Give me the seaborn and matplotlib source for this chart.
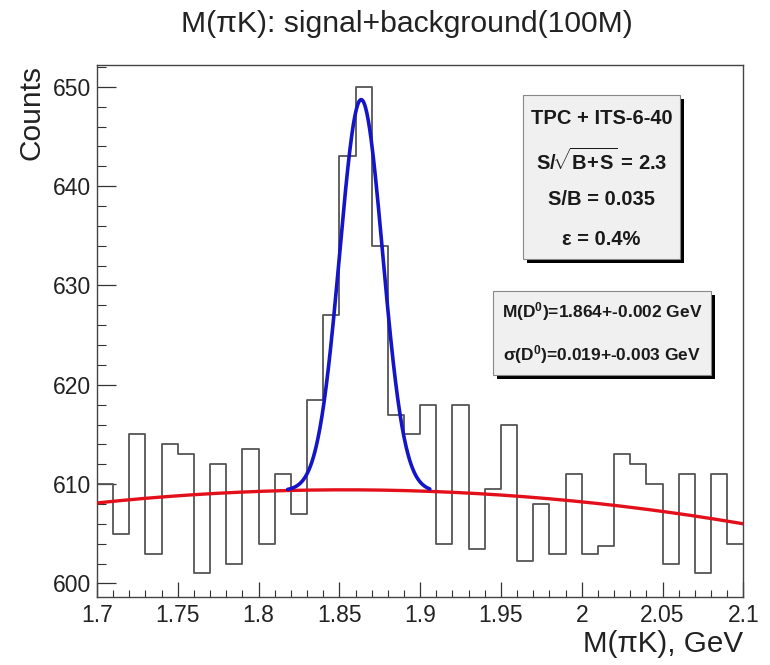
import numpy as np
import pandas as pd
import matplotlib
matplotlib.use("Agg")
import matplotlib.pyplot as plt
import seaborn as sns
from matplotlib.patches import Rectangle
from matplotlib.ticker import MultipleLocator, FuncFormatter

W, H = 770, 665

# histogram: 40 bins of 0.01 GeV between 1.70 and 2.10
x_lo, x_hi, bin_w = 1.70, 2.10, 0.01
counts = [610, 605, 615, 603, 614, 613, 601, 612, 602, 613.5,
          604, 611, 607, 618.5, 627, 643, 650, 634, 617, 615,
          618, 604, 618, 603.5, 609.5, 616, 602.3, 608, 603, 611,
          603, 603.8, 613, 612, 610, 602, 611, 601, 611, 604]

# fit parameters
bkg_ref = 1.90
bkg_coef = [609.3, -5.25, -56.25]      # p0 + p1*u + p2*u^2, u = x - bkg_ref
sig_amp = 39.3
sig_mean = 1.8635
sig_sigma = 0.0133
fit_lo, fit_hi = 1.818, 1.906

title = "M(\u03c0K): signal+background(100M)"
xlabel = "M(\u03c0K), GeV"
ylabel = "Counts"
box1_lines = ["TPC + ITS-6-40", r"S/$\!\mathbf{\sqrt{B\!+\!S}}$ = 2.3",
              "S/B = 0.035", "\u03b5 = 0.4%"]
box2_lines = [r"M(D$^{\mathbf{0}}$)=1.864+-0.002 GeV",
              "\u03c3(D$^{\\mathbf{0}}$)=0.019+-0.003 GeV"]

sns.set_style("white")
plt.rcParams['font.family'] = ['Liberation Sans', 'DejaVu Sans']
plt.rcParams['mathtext.fontset'] = 'custom'
plt.rcParams['mathtext.rm'] = 'Liberation Sans'
plt.rcParams['mathtext.bf'] = 'Liberation Sans:bold'
plt.rcParams['mathtext.it'] = 'Liberation Sans:italic'


def fx(px):
    return px / W


def fy(py):
    return 1 - py / H


def bkg(x):
    u = x - bkg_ref
    return bkg_coef[0] + bkg_coef[1] * u + bkg_coef[2] * u ** 2


def total(x):
    return bkg(x) + sig_amp * np.exp(-0.5 * ((x - sig_mean) / sig_sigma) ** 2)


fig = plt.figure(figsize=(W / 100, H / 100), dpi=100)
ax = fig.add_axes([fx(97), fy(597.3), fx(743.3 - 97), (597.3 - 65) / H])

n_bins = len(counts)
hist_df = pd.DataFrame({"mass": x_lo + bin_w * (np.arange(n_bins) + 0.5),
                        "counts": counts})
sns.histplot(data=hist_df, x="mass", weights="counts", binwidth=bin_w,
             binrange=(x_lo, x_hi), element="step", fill=False,
             color="#555555", linewidth=1.3, ax=ax, zorder=2)

xb = np.linspace(x_lo, x_hi, 300)
sns.lineplot(x=xb, y=bkg(xb), color="#e3101c", linewidth=2.4, ax=ax, zorder=3)
xs = np.linspace(fit_lo, fit_hi, 200)
sns.lineplot(x=xs, y=total(xs), color="#1414c8", linewidth=2.6, ax=ax, zorder=4)

ax.set_xlim(x_lo, x_hi)
ax.set_ylim(598.6, 652.2)
ax.set_xlabel("")
ax.set_ylabel("")
ax.xaxis.set_major_locator(MultipleLocator(0.05))
ax.xaxis.set_minor_locator(MultipleLocator(0.01))
ax.yaxis.set_major_locator(MultipleLocator(10))
ax.yaxis.set_minor_locator(MultipleLocator(2))
ax.xaxis.set_major_formatter(FuncFormatter(lambda v, p: f"{v:g}"))
ax.yaxis.set_major_formatter(FuncFormatter(lambda v, p: f"{v:g}"))
ax.tick_params(axis='x', which='major', direction='in', length=10.5, width=0.9,
               pad=5, labelsize=16.5, colors='#333333', labelcolor='#222222',
               bottom=True, top=False)
ax.tick_params(axis='x', which='minor', direction='in', length=5.3, width=0.8,
               colors='#333333', bottom=True, top=False)
ax.tick_params(axis='y', which='major', direction='in', length=13.5, width=0.9,
               pad=4.5, labelsize=16.5, colors='#333333', labelcolor='#222222',
               left=True, right=False)
ax.tick_params(axis='y', which='minor', direction='in', length=6.8, width=0.8,
               colors='#333333', left=True, right=False)
for s in ax.spines.values():
    s.set_color('#444444')
    s.set_linewidth(1.0)

fig.text(fx(407), fy(31.7), title, ha='center', va='baseline', fontsize=21.7,
         color='#222222')
fig.text(fx(31.5), fy(65), ylabel, ha='center', va='top', rotation=90,
         fontsize=21.5, color='#222222')
fig.text(fx(742.7), fy(652), xlabel, ha='right', va='baseline', fontsize=21.3,
         color='#222222')


def pave(x0, y0, x1, y1, shadow=4):
    fig.add_artist(Rectangle((fx(x0 + shadow), fy(y1 + shadow)),
                             (x1 - x0) / W, (y1 - y0) / H,
                             transform=fig.transFigure, facecolor='black',
                             edgecolor='none', zorder=5))
    fig.add_artist(Rectangle((fx(x0), fy(y1)), (x1 - x0) / W, (y1 - y0) / H,
                             transform=fig.transFigure, facecolor='#f0f0f0',
                             edgecolor='#888888', linewidth=0.8, zorder=6))


pave(523, 95, 680, 259)
for txt, py in zip(box1_lines, [119, 161, 199.5, 239.5]):
    fig.text(fx(601.5), fy(py), txt, ha='center', va='center', fontsize=14.5,
             fontweight='bold', color='#1a1a1a', zorder=7)

pave(493, 291, 711, 375)
for txt, py in zip(box2_lines, [312, 354.5]):
    fig.text(fx(602), fy(py), txt, ha='center', va='center', fontsize=12.5,
             fontweight='bold', color='#1a1a1a', zorder=7)

fig.savefig("out.png", dpi=100, facecolor='white')
